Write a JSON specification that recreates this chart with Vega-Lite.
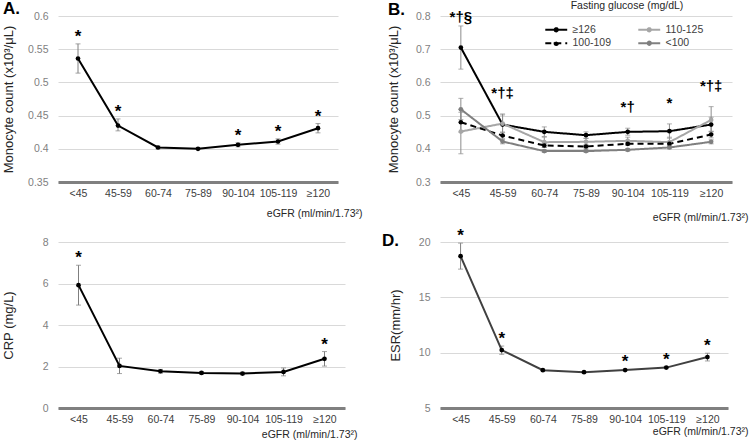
{
  "$schema": "https://vega.github.io/schema/vega-lite/v6.json",
  "autosize": {"type": "none"},
  "padding": {"left": 58, "top": 16, "right": 692, "bottom": 432},
  "bounds": "flush",
  "columns": 2,
  "spacing": {"row": 60, "column": 95},
  "concat": [
    {
      "width": 280, "height": 166,
      "title": {"text": "A.", "dx": -55, "dy": 11},
      "data": {"values": [
        {"cat": "<45", "v": 0.536, "lo": 0.514, "hi": 0.558, "sig": "*"},
        {"cat": "45-59", "v": 0.435, "lo": 0.427, "hi": 0.445, "sig": "*"},
        {"cat": "60-74", "v": 0.402, "lo": 0.400, "hi": 0.404, "sig": ""},
        {"cat": "75-89", "v": 0.400, "lo": 0.399, "hi": 0.401, "sig": ""},
        {"cat": "90-104", "v": 0.406, "lo": 0.403, "hi": 0.409, "sig": "*"},
        {"cat": "105-119", "v": 0.411, "lo": 0.407, "hi": 0.415, "sig": "*"},
        {"cat": "≥120", "v": 0.431, "lo": 0.424, "hi": 0.438, "sig": "*"}
      ]},
      "encoding": {"x": {"field": "cat", "type": "ordinal",
        "scale": {"type": "point", "padding": 0.5, "domain": ["<45","45-59","60-74","75-89","90-104","105-119","≥120"]},
        "axis": {"title": "eGFR (ml/min/1.73²)", "titleX": 304, "titleY": 31}}},
      "layer": [
        {"mark": {"type": "errorbar", "ticks": {"size": 5}, "color": "#7f7f7f", "thickness": 1},
         "encoding": {"y": {"field": "lo", "type": "quantitative", "scale": {"domain": [0.35, 0.6], "zero": false, "nice": false},
           "axis": {"title": "Monocyte count (x10³/μL)", "titleX": -50, "values": [0.35,0.4,0.45,0.5,0.55,0.6], "tickCount": 12, "format": ".2~f"}},
           "y2": {"field": "hi"}}},
        {"mark": {"type": "line", "color": "#000000", "strokeWidth": 2, "point": {"filled": true, "size": 22, "color": "#000000"}},
         "encoding": {"y": {"field": "v", "type": "quantitative", "title": "Monocyte count (x10³/μL)"}}},
        {"transform": [{"filter": "datum.sig != ''"}],
         "mark": {"type": "text", "fontSize": 17, "fontWeight": "bold", "baseline": "alphabetic", "dy": -2, "color": "#000000"},
         "encoding": {"y": {"field": "hi", "type": "quantitative", "title": "Monocyte count (x10³/μL)"}, "text": {"field": "sig"}}}
      ]
    },
    {
      "width": 292, "height": 166,
      "title": {"text": "B.", "dx": -52, "dy": 13.5},
      "data": {"values": [
        {"group": "≥126", "cat": "<45", "v": 0.705, "lo": 0.640, "hi": 0.770, "sig": "*†§"},
        {"group": "≥126", "cat": "45-59", "v": 0.473, "lo": 0.440, "hi": 0.505, "sig": "*†‡"},
        {"group": "≥126", "cat": "60-74", "v": 0.451, "lo": 0.437, "hi": 0.466, "sig": ""},
        {"group": "≥126", "cat": "75-89", "v": 0.441, "lo": 0.431, "hi": 0.451, "sig": ""},
        {"group": "≥126", "cat": "90-104", "v": 0.451, "lo": 0.441, "hi": 0.462, "sig": "*†"},
        {"group": "≥126", "cat": "105-119", "v": 0.453, "lo": 0.432, "hi": 0.475, "sig": "*"},
        {"group": "≥126", "cat": "≥120", "v": 0.473, "lo": 0.452, "hi": 0.495, "sig": ""},
        {"group": "110-125", "cat": "<45", "v": 0.452, "lo": 0.385, "hi": 0.519, "sig": ""},
        {"group": "110-125", "cat": "45-59", "v": 0.476, "lo": 0.450, "hi": 0.502, "sig": ""},
        {"group": "110-125", "cat": "60-74", "v": 0.420, "lo": 0.405, "hi": 0.435, "sig": ""},
        {"group": "110-125", "cat": "75-89", "v": 0.421, "lo": 0.410, "hi": 0.432, "sig": ""},
        {"group": "110-125", "cat": "90-104", "v": 0.424, "lo": 0.413, "hi": 0.435, "sig": ""},
        {"group": "110-125", "cat": "105-119", "v": 0.420, "lo": 0.405, "hi": 0.435, "sig": ""},
        {"group": "110-125", "cat": "≥120", "v": 0.487, "lo": 0.447, "hi": 0.527, "sig": "*†‡"},
        {"group": "100-109", "cat": "<45", "v": 0.480, "lo": 0.450, "hi": 0.510, "sig": ""},
        {"group": "100-109", "cat": "45-59", "v": 0.440, "lo": 0.430, "hi": 0.450, "sig": ""},
        {"group": "100-109", "cat": "60-74", "v": 0.410, "lo": 0.404, "hi": 0.416, "sig": ""},
        {"group": "100-109", "cat": "75-89", "v": 0.407, "lo": 0.402, "hi": 0.412, "sig": ""},
        {"group": "100-109", "cat": "90-104", "v": 0.415, "lo": 0.410, "hi": 0.420, "sig": ""},
        {"group": "100-109", "cat": "105-119", "v": 0.415, "lo": 0.409, "hi": 0.421, "sig": ""},
        {"group": "100-109", "cat": "≥120", "v": 0.443, "lo": 0.433, "hi": 0.453, "sig": ""},
        {"group": "<100", "cat": "<45", "v": 0.519, "lo": 0.488, "hi": 0.552, "sig": ""},
        {"group": "<100", "cat": "45-59", "v": 0.422, "lo": 0.415, "hi": 0.429, "sig": ""},
        {"group": "<100", "cat": "60-74", "v": 0.393, "lo": 0.389, "hi": 0.397, "sig": ""},
        {"group": "<100", "cat": "75-89", "v": 0.393, "lo": 0.389, "hi": 0.397, "sig": ""},
        {"group": "<100", "cat": "90-104", "v": 0.397, "lo": 0.393, "hi": 0.401, "sig": ""},
        {"group": "<100", "cat": "105-119", "v": 0.404, "lo": 0.400, "hi": 0.408, "sig": ""},
        {"group": "<100", "cat": "≥120", "v": 0.421, "lo": 0.415, "hi": 0.427, "sig": ""}
      ]},
      "encoding": {"x": {"field": "cat", "type": "ordinal",
        "scale": {"type": "point", "padding": 0.5, "domain": ["<45","45-59","60-74","75-89","90-104","105-119","≥120"]},
        "axis": {"title": "eGFR (ml/min/1.73²)", "titleX": 308, "titleY": 35}}},
      "layer": [
        {"mark": {"type": "errorbar", "ticks": {"size": 5}, "color": "#8c8c8c", "thickness": 1},
         "encoding": {"y": {"field": "lo", "type": "quantitative", "scale": {"domain": [0.3, 0.8], "zero": false, "nice": false},
           "axis": {"title": "Monocyte count (x10³/μL)", "titleX": -47, "values": [0.3,0.4,0.5,0.6,0.7,0.8], "tickCount": 12, "format": ".1f"}},
           "y2": {"field": "hi"}, "detail": {"field": "group"}}},
        {"mark": {"type": "line", "strokeWidth": 2, "point": {"filled": true, "size": 22}},
         "encoding": {"y": {"field": "v", "type": "quantitative", "title": "Monocyte count (x10³/μL)"},
           "color": {"field": "group", "type": "nominal",
             "scale": {"domain": ["≥126","100-109","110-125","<100"], "range": ["#000000","#000000","#a6a6a6","#7f7f7f"]},
             "legend": {"title": "Fasting glucose (mg/dL)", "orient": "none", "legendX": 493, "legendY": -15, "columns": 2,
               "symbolType": "M-4,0H4M0.6,0A0.6,0.6 0 1,1 -0.6,0A0.6,0.6 0 1,1 0.6,0", "symbolSize": 30, "symbolStrokeWidth": 2,
               "labelOffset": 11, "columnPadding": 22, "rowPadding": 1.5, "titlePadding": 13, "titleAnchor": "middle"}},
           "strokeDash": {"field": "group", "type": "nominal",
             "scale": {"domain": ["≥126","100-109","110-125","<100"], "range": [[1,0],[6,4],[1,0],[1,0]]},
             "legend": {"title": "Fasting glucose (mg/dL)", "orient": "none", "legendX": 493, "legendY": -15, "columns": 2,
               "symbolType": "M-4,0H4M0.6,0A0.6,0.6 0 1,1 -0.6,0A0.6,0.6 0 1,1 0.6,0", "symbolSize": 30, "symbolStrokeWidth": 2,
               "labelOffset": 11, "columnPadding": 22, "rowPadding": 1.5, "titlePadding": 13, "titleAnchor": "middle"}}}},
        {"transform": [{"filter": "datum.sig != '' && datum.cat != '<45'"}],
         "mark": {"type": "text", "fontSize": 15, "fontWeight": "bold", "baseline": "alphabetic", "dy": -16, "color": "#000000"},
         "encoding": {"y": {"field": "hi", "type": "quantitative", "title": "Monocyte count (x10³/μL)"}, "text": {"field": "sig"}}},
        {"transform": [{"filter": "datum.sig != '' && datum.cat == '<45'"}],
         "mark": {"type": "text", "fontSize": 15, "fontWeight": "bold", "baseline": "alphabetic", "dy": -4, "color": "#000000"},
         "encoding": {"y": {"field": "hi", "type": "quantitative", "title": "Monocyte count (x10³/μL)"}, "text": {"field": "sig"}}}
      ]
    },
    {
      "width": 287, "height": 166,
      "data": {"values": [
        {"cat": "<45", "v": 5.92, "lo": 4.96, "hi": 6.88, "sig": "*"},
        {"cat": "45-59", "v": 2.03, "lo": 1.66, "hi": 2.40, "sig": ""},
        {"cat": "60-74", "v": 1.77, "lo": 1.68, "hi": 1.86, "sig": ""},
        {"cat": "75-89", "v": 1.69, "lo": 1.63, "hi": 1.75, "sig": ""},
        {"cat": "90-104", "v": 1.66, "lo": 1.60, "hi": 1.72, "sig": ""},
        {"cat": "105-119", "v": 1.74, "lo": 1.55, "hi": 1.93, "sig": ""},
        {"cat": "≥120", "v": 2.37, "lo": 2.02, "hi": 2.72, "sig": "*"}
      ]},
      "encoding": {"x": {"field": "cat", "type": "ordinal",
        "scale": {"type": "point", "padding": 0.5, "domain": ["<45","45-59","60-74","75-89","90-104","105-119","≥120"]},
        "axis": {"title": "eGFR (ml/min/1.73²)", "titleX": 299, "titleY": 26}}},
      "layer": [
        {"mark": {"type": "errorbar", "ticks": {"size": 5}, "color": "#7f7f7f", "thickness": 1},
         "encoding": {"y": {"field": "lo", "type": "quantitative", "scale": {"domain": [0, 8], "zero": false, "nice": false},
           "axis": {"title": "CRP (mg/L)", "titleX": -50, "values": [0,2,4,6,8], "tickCount": 12, "format": "d"}},
           "y2": {"field": "hi"}}},
        {"mark": {"type": "line", "color": "#000000", "strokeWidth": 2, "point": {"filled": true, "size": 22, "color": "#000000"}},
         "encoding": {"y": {"field": "v", "type": "quantitative", "title": "CRP (mg/L)"}}},
        {"transform": [{"filter": "datum.sig != ''"}],
         "mark": {"type": "text", "fontSize": 17, "fontWeight": "bold", "baseline": "alphabetic", "dy": -2, "color": "#000000"},
         "encoding": {"y": {"field": "hi", "type": "quantitative", "title": "CRP (mg/L)"}, "text": {"field": "sig"}}}
      ]
    },
    {
      "width": 288, "height": 166,
      "title": {"text": "D.", "dx": -58, "dy": 27},
      "data": {"values": [
        {"cat": "<45", "v": 18.72, "lo": 17.55, "hi": 19.9, "sig": "*"},
        {"cat": "45-59", "v": 10.23, "lo": 9.85, "hi": 10.6, "sig": "*"},
        {"cat": "60-74", "v": 8.42, "lo": 8.35, "hi": 8.49, "sig": ""},
        {"cat": "75-89", "v": 8.24, "lo": 8.18, "hi": 8.30, "sig": ""},
        {"cat": "90-104", "v": 8.43, "lo": 8.36, "hi": 8.50, "sig": "*"},
        {"cat": "105-119", "v": 8.65, "lo": 8.56, "hi": 8.74, "sig": "*"},
        {"cat": "≥120", "v": 9.6, "lo": 9.25, "hi": 9.95, "sig": "*"}
      ]},
      "encoding": {"x": {"field": "cat", "type": "ordinal",
        "scale": {"type": "point", "padding": 0.5, "domain": ["<45","45-59","60-74","75-89","90-104","105-119","≥120"]},
        "axis": {"title": "eGFR (ml/min/1.73²)", "titleX": 308, "titleY": 23}}},
      "layer": [
        {"mark": {"type": "errorbar", "ticks": {"size": 5}, "color": "#7f7f7f", "thickness": 1},
         "encoding": {"y": {"field": "lo", "type": "quantitative", "scale": {"domain": [5, 20], "zero": false, "nice": false},
           "axis": {"title": "ESR(mm/hr)", "titleX": -45, "values": [5,10,15,20], "tickCount": 12, "format": "d"}},
           "y2": {"field": "hi"}}},
        {"mark": {"type": "line", "color": "#404040", "strokeWidth": 2, "point": {"filled": true, "size": 22, "color": "#000000"}},
         "encoding": {"y": {"field": "v", "type": "quantitative", "title": "ESR(mm/hr)"}}},
        {"transform": [{"filter": "datum.sig != ''"}],
         "mark": {"type": "text", "fontSize": 17, "fontWeight": "bold", "baseline": "alphabetic", "dy": -2, "color": "#000000"},
         "encoding": {"y": {"field": "hi", "type": "quantitative", "title": "ESR(mm/hr)"}, "text": {"field": "sig"}}}
      ]
    }
  ],
  "config": {
    "font": "Liberation Sans",
    "view": {"stroke": null},
    "axis": {"labelFont": "Liberation Sans", "titleFont": "Liberation Sans", "labelFontSize": 10.5, "titleFontWeight": "normal", "ticks": false, "tickSize": 0, "labelOverlap": false},
    "axisX": {"domainColor": "#808080", "domainWidth": 3, "labelColor": "#404040", "labelPadding": 6, "labelAngle": 0, "grid": false,
              "titleFontSize": 10.5, "titleColor": "#262626", "titleAlign": "right", "titleBaseline": "middle"},
    "axisY": {"domain": false, "labelColor": "#7f7f7f", "labelPadding": 10, "grid": true, "gridColor": "#d9d9d9", "tickCount": 12,
              "titleFontSize": 13, "titleColor": "#262626", "titleBaseline": "middle"},
    "legend": {"labelFontSize": 10.5, "labelColor": "#404040", "titleFontSize": 10.5, "titleFontWeight": "normal", "titleColor": "#262626", "labelFont": "Liberation Sans", "titleFont": "Liberation Sans"},
    "title": {"fontSize": 17, "fontWeight": "bold", "anchor": "start", "frame": "group", "offset": 0, "baseline": "alphabetic", "color": "#000000", "font": "Liberation Sans"}
  }
}
